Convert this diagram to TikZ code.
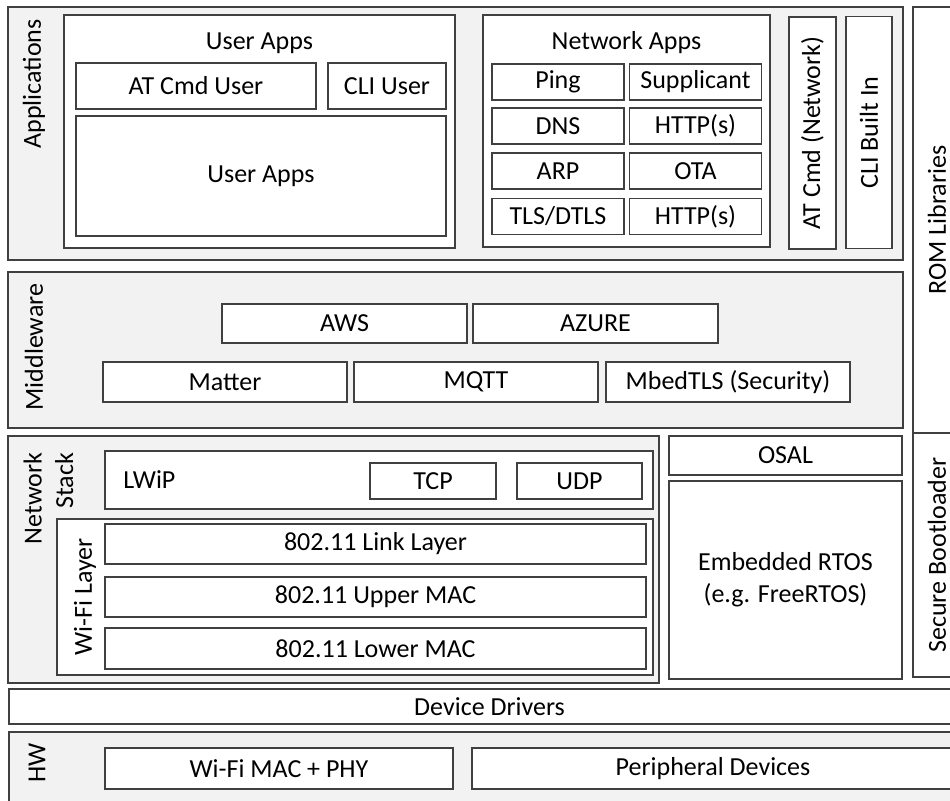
\documentclass[tikz,border=0pt]{standalone}
\usepackage{fontspec}
\setmainfont{Carlito}
\usepackage{tikz}
\usetikzlibrary{positioning}
\definecolor{panelgray}{HTML}{F2F2F2}
\definecolor{edgegray}{HTML}{404040}

\begin{document}
\begin{tikzpicture}[x=0.5pt,y=-0.5pt,
  every node/.style={font=\fontsize{13}{15.8}\selectfont},
  panel/.style={draw=edgegray,fill=panelgray,line width=0.6pt,rectangle,inner sep=0pt},
  blk/.style={draw=edgegray,fill=white,line width=0.6pt,rectangle,inner sep=0pt},
  cell/.style={blk,minimum width=66pt,minimum height=18pt}]
\useasboundingbox (0,0) rectangle (950,801);

\node[panel,minimum width=447.5pt,minimum height=126.5pt] (apps) at (455.5,133.5) {};
\node[rotate=90] (appslabel) at (34,84) {Applications};
\node[blk,minimum width=195.5pt,minimum height=116.5pt] (userapps) at (259.5,131.5) {};
\node (userappstitle) at (259.5,43) {User Apps};
\node[blk,minimum width=120pt,minimum height=23pt] (atuser) at (196,86) {AT Cmd User};
\node[blk,minimum width=59pt,minimum height=23pt] (cliuser) at (387,86) {CLI User};
\node[blk,minimum width=185pt,minimum height=60pt] (userappsin) at (261,176) {User Apps};
\node[blk,minimum width=143.5pt,minimum height=116pt] (netapps) at (626.5,131) {};
\node (netappstitle) at (626.5,43) {Network Apps};
\node[cell] (ping) at (558,82) {Ping};
\node[cell] (supplicant) at (695.5,82) {Supplicant};
\node[cell] (dns) at (558,126) {DNS};
\node[cell] (http1) at (695.5,126) {HTTP(s)};
\node[cell] (arp) at (558,171) {ARP};
\node[cell] (ota) at (695.5,171) {OTA};
\node[cell] (tls) at (558,216.5) {TLS/DTLS};
\node[cell] (http2) at (695.5,216.5) {HTTP(s)};
\node[blk,rotate=90,minimum width=116pt,minimum height=23.5pt] (atnet) at (812.5,133) {AT Cmd (Network)};
\node[blk,rotate=90,minimum width=116pt,minimum height=23pt] (clibuiltin) at (869,132.5) {CLI Built In};

\begin{scope}
\clip (0,0) rectangle (950,801);
\draw[blk] (913,7) rectangle (965,433);
\draw[blk] (913,433) rectangle (965,677);
\draw[blk] (9,689) rectangle (975,724);
\draw[panel] (9,732) rectangle (975,815);
\draw[blk] (472,748) rectangle (958,789);
\end{scope}
\node[rotate=90] (romlabel) at (937,220) {ROM Libraries};
\node[rotate=90] (secbootlabel) at (937,555) {Secure Bootloader};

\node[panel,minimum width=447.5pt,minimum height=78pt] (middleware) at (455.5,350) {};
\node[rotate=90] (mwlabel) at (34,347) {Middleware};
\node[blk,minimum width=122.5pt,minimum height=19.5pt] (aws) at (344.5,323.5) {AWS};
\node[blk,minimum width=122.5pt,minimum height=19.5pt] (azure) at (595.5,323.5) {AZURE};
\node[blk,minimum width=122pt,minimum height=20pt] (matter) at (225,382) {Matter};
\node[blk,minimum width=122pt,minimum height=20pt] (mqtt) at (476,382) {MQTT};
\node[blk,minimum width=122pt,minimum height=20pt] (mbedtls) at (728,382) {MbedTLS (Security)};

\node[panel,minimum width=325.5pt,minimum height=123.5pt] (netstack) at (333.5,559.5) {};
\node[rotate=90,anchor=east,align=right] (nslabel) at (48.5,446) {Network\\Stack};
\node[blk,minimum width=274pt,minimum height=29pt] (lwip) at (379,480) {};
\node[anchor=west,xshift=6pt] (lwiplabel) at (lwip.west) {LWiP};
\node[blk,minimum width=63pt,minimum height=18pt] (tcp) at (433,481) {TCP};
\node[blk,minimum width=62.5pt,minimum height=18pt] (udp) at (579.5,481) {UDP};
\node[blk,minimum width=298pt,minimum height=78pt] (wifi) at (355,597) {};
\node[rotate=90] (wifilabel) at (85,597) {Wi-Fi Layer};
\node[blk,minimum width=270.5pt,minimum height=20pt] (link) at (375.5,544) {802.11 Link Layer};
\node[blk,minimum width=270.5pt,minimum height=20pt] (upper) at (375.5,597) {802.11 Upper MAC};
\node[blk,minimum width=270.5pt,minimum height=20.5pt] (lower) at (375.5,648.5) {802.11 Lower MAC};

\node[blk,minimum width=116.5pt,minimum height=19.5pt] (osal) at (785.5,455.5) {OSAL};
\node[blk,minimum width=116.5pt,minimum height=99pt,align=center] (rtos) at (785.5,580) {Embedded RTOS\\(e.g. FreeRTOS)};

\node (driverslabel) at (489.5,706.5) {Device Drivers};
\node[rotate=90] (hwlabel) at (37,763) {HW};
\node[blk,minimum width=174pt,minimum height=20.5pt] (wifimac) at (279,768.5) {Wi-Fi MAC + PHY};
\node (periphlabel) at (713,768.5) {Peripheral Devices};
\end{tikzpicture}
\end{document}
